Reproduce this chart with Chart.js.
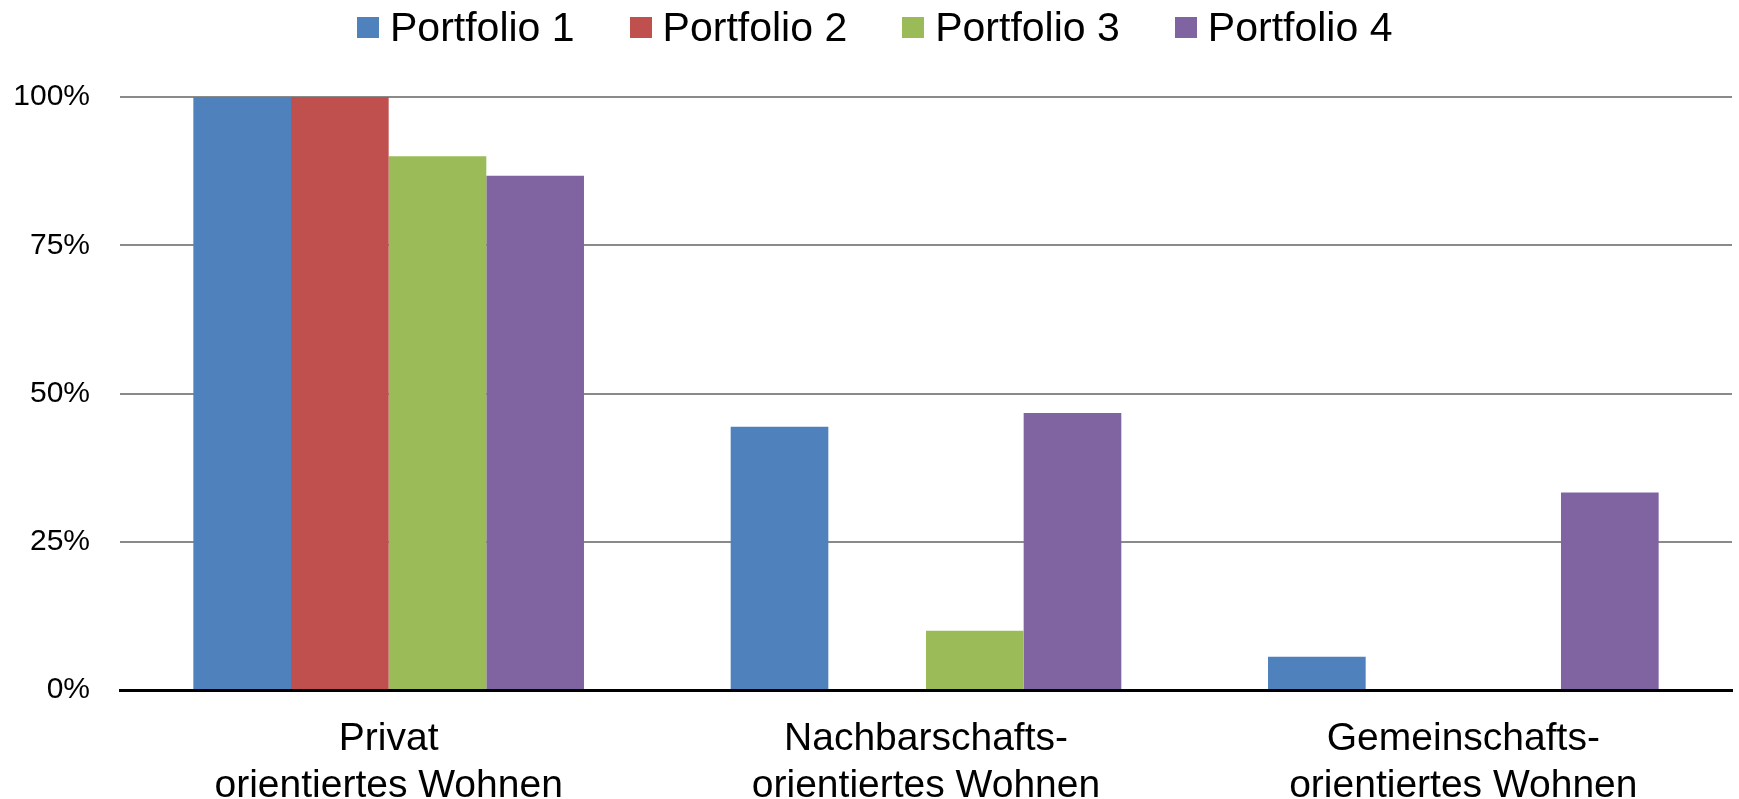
<!DOCTYPE html>
<html>
<head>
<meta charset="utf-8">
<script src="https://cdn.jsdelivr.net/npm/chart.js@4.4.1/dist/chart.umd.min.js"></script>
<style>
  html, body { margin: 0; padding: 0; background: #fff; overflow: hidden; }
  #wrap { position: relative; width: 1739px; height: 799px; }
  #chart { position: absolute; left: 0; top: 0; }
  #legend { position: absolute; left: 357px; top: 7px; display: flex; align-items: center;
            font-family: "Liberation Sans", Arial, sans-serif; font-size: 41px; line-height: 41px; color: #000; white-space: nowrap; }
  .item { display: flex; align-items: center; margin-right: 55px; }
  .box { width: 22px; height: 21px; margin-right: 11px; }
</style>
</head>
<body>
<div id="wrap">
  <canvas id="chart" width="1739" height="799"></canvas>
  <div id="legend"></div>
</div>
<script>
const categories = [
  ["Privat", "orientiertes Wohnen"],
  ["Nachbarschafts-", "orientiertes Wohnen"],
  ["Gemeinschafts-", "orientiertes Wohnen"]
];
const seriesNames = ["Portfolio 1", "Portfolio 2", "Portfolio 3", "Portfolio 4"];
const portfolio1 = [100, 44.4, 5.6];
const portfolio2 = [100, 0, 0];
const portfolio3 = [90, 10, 0];
const portfolio4 = [86.7, 46.7, 33.3];
const yTicks = [0, 25, 50, 75, 100];
const colors = ["#4F81BD", "#C0504D", "#9BBB59", "#8064A2"];

const seriesValues = [portfolio1, portfolio2, portfolio3, portfolio4];
const datasets = seriesNames.map((name, i) => ({
  label: name,
  data: seriesValues[i],
  backgroundColor: colors[i],
  borderWidth: 0,
  categoryPercentage: 0.727,
  barPercentage: 1.0
}));

// HTML legend built from the series
const legendEl = document.getElementById('legend');
seriesNames.forEach((name, i) => {
  const it = document.createElement('div');
  it.className = 'item';
  const b = document.createElement('div');
  b.className = 'box';
  b.style.background = colors[i];
  const t = document.createElement('span');
  t.textContent = name;
  it.appendChild(b); it.appendChild(t);
  legendEl.appendChild(it);
});

const font = "'Liberation Sans', Arial, sans-serif";

new Chart(document.getElementById('chart'), {
  type: 'bar',
  data: { labels: categories, datasets },
  options: {
    responsive: false,
    animation: false,
    devicePixelRatio: 1,
    layout: { padding: { top: 97, right: 7, left: 0, bottom: 0 } },
    plugins: { legend: { display: false }, tooltip: { enabled: false } },
    scales: {
      x: {
        grid: { display: false, drawTicks: false },
        border: { display: true, color: '#000', width: 3 },
        ticks: { color: '#000', font: { family: font, size: 39, lineHeight: 1.2 }, padding: 26, maxRotation: 0, autoSkip: false },
        afterFit: (s) => { s.height = 109; }
      },
      y: {
        min: 0, max: 100,
        afterBuildTicks: (s) => { s.ticks = yTicks.map(v => ({ value: v })); },
        grid: { color: '#8a8a8a', lineWidth: 2, drawTicks: false },
        border: { display: false },
        ticks: { color: '#000', font: { family: font, size: 30 }, padding: 30, callback: (v) => v + '%' },
        afterFit: (s) => { s.width = 120; }
      }
    }
  }
});
</script>
</body>
</html>
